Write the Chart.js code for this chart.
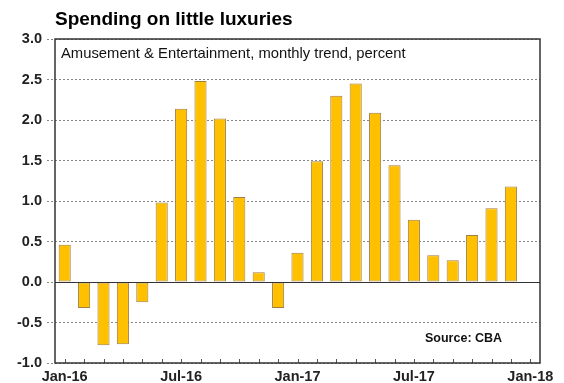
<!DOCTYPE html>
<html>
<head>
<meta charset="utf-8">
<script src="https://cdn.jsdelivr.net/npm/chart.js@4"></script>
<style>
  html, body { margin: 0; padding: 0; background: #fff; }
  #wrap { width: 564px; height: 383px; }
</style>
</head>
<body>
<div id="wrap"><canvas id="chart" width="564" height="383"></canvas></div>
<script>
// monthly labels Jan-16 .. Jan-18 (last slot empty)
const months = ['Jan-16','Feb-16','Mar-16','Apr-16','May-16','Jun-16','Jul-16','Aug-16','Sep-16','Oct-16','Nov-16','Dec-16',
  'Jan-17','Feb-17','Mar-17','Apr-17','May-17','Jun-17','Jul-17','Aug-17','Sep-17','Oct-17','Nov-17','Dec-17','Jan-18'];
const trend = [0.46, -0.32, -0.78, -0.77, -0.25, 0.98, 2.14, 2.48, 2.02, 1.05, 0.12, -0.32,
  0.36, 1.49, 2.30, 2.45, 2.09, 1.44, 0.77, 0.33, 0.27, 0.58, 0.91, 1.18, null];
const yTicks = [-1.0, -0.5, 0.0, 0.5, 1.0, 1.5, 2.0, 2.5, 3.0];

const titleText = 'Spending on little luxuries';
const subText = 'Amusement & Entertainment, monthly trend, percent';
const sourceText = 'Source: CBA';
const FONT = 'Arial, "Liberation Sans", sans-serif';

const extras = {
  id: 'extras',
  afterDatasetsDraw(chart) {
    const ctx = chart.ctx, a = chart.chartArea;
    const x = chart.scales.x, y = chart.scales.y;
    ctx.save();
    // zero line
    ctx.strokeStyle = '#333';
    ctx.lineWidth = 1;
    const y0 = Math.round(y.getPixelForValue(0)) + 0.5;
    ctx.beginPath(); ctx.moveTo(a.left, y0); ctx.lineTo(a.right, y0); ctx.stroke();
    // small inside ticks on bottom axis
    ctx.strokeStyle = '#555';
    for (let i = 0; i < months.length; i++) {
      const px = Math.round(x.getPixelForValue(i)) + 0.5;
      ctx.beginPath(); ctx.moveTo(px, a.bottom); ctx.lineTo(px, a.bottom - 4); ctx.stroke();
    }
    // frame
    ctx.strokeStyle = '#333';
    ctx.lineWidth = 1.5;
    ctx.strokeRect(a.left, a.top, a.right - a.left, a.bottom - a.top);
    // texts
    ctx.fillStyle = '#000';
    ctx.textBaseline = 'middle';
    ctx.textAlign = 'left';
    ctx.font = 'bold 19px ' + FONT;
    ctx.fillText(titleText, 55, 20);
    ctx.fillStyle = '#111';
    ctx.font = '14.8px ' + FONT;
    ctx.fillText(subText, 61, 54);
    ctx.font = 'bold 12.5px ' + FONT;
    ctx.fillText(sourceText, 425, 339);
    ctx.restore();
  }
};

new Chart(document.getElementById('chart'), {
  type: 'bar',
  data: {
    labels: months,
    datasets: [{
      data: trend,
      backgroundColor: '#FFC000',
      borderColor: '#A08040',
      borderWidth: 1,
      borderSkipped: false,
      barPercentage: 0.8,
      categoryPercentage: 0.78
    }]
  },
  options: {
    responsive: false,
    animation: false,
    layout: { padding: { top: 39, right: 24, left: 0, bottom: 0 } },
    plugins: { legend: { display: false }, tooltip: { enabled: false }, title: { display: false } },
    scales: {
      x: {
        offset: true,
        grid: { display: false, drawTicks: false },
        border: { display: false },
        ticks: {
          autoSkip: false, maxRotation: 0, padding: 5,
          color: '#222', font: { family: FONT, size: 14.5, weight: 'bold' },
          callback: (v, i) => (i % 6 === 0 ? months[i] : '')
        },
        afterFit: s => { s.height = 20; }
      },
      y: {
        min: -1, max: 3,
        afterBuildTicks: s => { s.ticks = yTicks.map(v => ({ value: v })); },
        grid: { color: '#888', lineWidth: 1, tickLength: 8, tickColor: '#888', tickBorderDash: [2, 2] },
        border: { display: false, dash: [2, 2] },
        ticks: {
          padding: 5, color: '#222', font: { family: FONT, size: 14.5, weight: 'bold' },
          callback: v => v.toFixed(1)
        },
        afterFit: s => { s.width = 55; }
      }
    }
  },
  plugins: [extras]
});
</script>
</body>
</html>
